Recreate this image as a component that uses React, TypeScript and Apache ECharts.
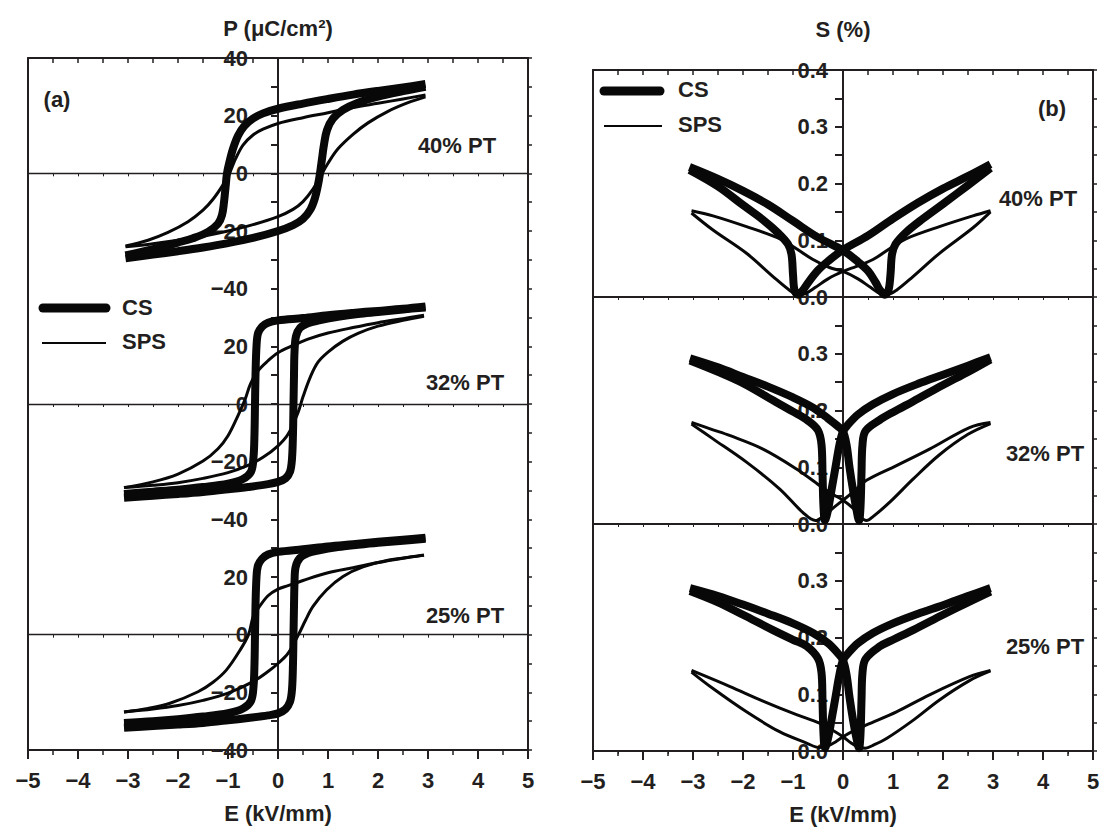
import { useEffect, useRef } from 'react';
import * as echarts from 'echarts';

// ---------- Panel (a): P–E loops, points [E (kV/mm), P (µC/cm²)] ----------
const pe40CsUp = [[-3.05,-29.5],[-2.5,-28.2],[-2,-27],[-1.5,-25.7],[-1,-24.2],[-0.5,-22.4],[0,-20],[0.3,-18],[0.5,-15.8],[0.65,-12.5],[0.74,-8.5],[0.8,-4],[0.84,0],[0.88,5],[0.92,10],[0.98,15],[1.1,19],[1.3,22],[1.6,24.5],[2,26.6],[2.5,28.5],[2.95,30]];
const pe40CsDown = [[2.95,31],[2.5,29.8],[2,28.6],[1.5,27.3],[1,25.8],[0.5,24.2],[0,22.4],[-0.3,20.8],[-0.5,19],[-0.68,16.3],[-0.8,13],[-0.9,8.5],[-0.97,4],[-1.02,0],[-1.05,-5],[-1.08,-10],[-1.12,-14.5],[-1.2,-17.5],[-1.4,-20.3],[-1.7,-22.5],[-2,-24],[-2.5,-26.3],[-3.05,-28.5]];
const pe40SpsUp = [[-3.05,-25.5],[-2.5,-24.4],[-2,-23.2],[-1.5,-21.8],[-1,-20],[-0.5,-17.8],[0,-15],[0.3,-12.5],[0.5,-9.8],[0.7,-5.5],[0.85,-1],[1,3.5],[1.2,8.5],[1.5,13.5],[1.8,17.5],[2.2,21.5],[2.6,24.5],[2.95,26.5]];
const pe40SpsDown = [[2.95,27.2],[2.5,25.8],[2,24.3],[1.5,22.8],[1,21],[0.5,19.3],[0,17.3],[-0.3,15.3],[-0.5,13.3],[-0.7,9.8],[-0.85,5],[-0.97,0],[-1.1,-4],[-1.3,-9],[-1.5,-12.8],[-1.8,-16.8],[-2.2,-20.5],[-2.6,-23.2],[-3.05,-25.2]];

const pe32CsUp = [[-3.08,-32.5],[-2.5,-31.8],[-2,-31.2],[-1.5,-30.5],[-1,-29.6],[-0.6,-28.8],[-0.2,-27.8],[0,-27],[0.15,-25.8],[0.24,-23.5],[0.28,-19],[0.3,-10],[0.31,0],[0.32,10],[0.33,18],[0.36,23.5],[0.44,26.4],[0.6,28],[0.8,28.9],[1.2,30.2],[1.6,31.2],[2,31.9],[2.5,32.8],[2.95,33.5]];
const pe32CsDown = [[2.95,33.8],[2.5,33],[2,32.3],[1.5,31.6],[1,30.8],[0.5,29.8],[0,29],[-0.2,28.2],[-0.32,26.8],[-0.4,24.5],[-0.43,20],[-0.45,10],[-0.46,0],[-0.47,-10],[-0.49,-18.5],[-0.54,-23.5],[-0.7,-26],[-1,-27.6],[-1.5,-28.8],[-2,-29.7],[-2.5,-30.4],[-3.08,-31.2]];
const pe32SpsUp = [[-3.08,-29],[-2.5,-28.2],[-2,-27.3],[-1.5,-25.8],[-1,-23.8],[-0.6,-21.3],[-0.3,-18.5],[0,-14.5],[0.2,-10.5],[0.4,-3],[0.5,2.5],[0.65,9.5],[0.8,14.5],[1,18],[1.3,21.8],[1.6,24.5],[2,27],[2.5,29],[2.92,30.4]];
const pe32SpsDown = [[2.92,30.8],[2.5,29.6],[2,28.2],[1.5,26.5],[1,24.6],[0.6,22.5],[0.3,20.3],[0,17.8],[-0.2,15],[-0.4,11.5],[-0.55,7],[-0.66,1.5],[-0.8,-4],[-1,-11],[-1.2,-15.5],[-1.5,-19.8],[-2,-24.3],[-2.5,-27],[-3.08,-29]];

const pe25CsUp = [[-3.08,-32.3],[-2.5,-31.7],[-2,-31.2],[-1.5,-30.6],[-1,-29.7],[-0.6,-28.9],[-0.2,-28],[0,-27.3],[0.15,-25.8],[0.24,-23.3],[0.28,-19],[0.3,-10],[0.31,0],[0.32,10],[0.33,18],[0.35,23.3],[0.44,26.6],[0.6,28.3],[0.8,29.2],[1.2,30.4],[1.6,31.2],[2,31.9],[2.5,32.6],[2.95,33.3]];
const pe25CsDown = [[2.95,33.6],[2.5,32.9],[2,32.2],[1.5,31.4],[1,30.6],[0.5,29.6],[0,28.7],[-0.2,27.8],[-0.32,26.3],[-0.4,24],[-0.43,20],[-0.45,10],[-0.46,0],[-0.47,-10],[-0.49,-18],[-0.54,-23],[-0.7,-25.6],[-1,-27.2],[-1.5,-28.4],[-2,-29.3],[-2.5,-30],[-3.08,-30.6]];
const pe25SpsUp = [[-3.08,-26.8],[-2.5,-25.8],[-2,-24.6],[-1.5,-22.8],[-1,-20.3],[-0.5,-16.3],[-0.2,-12.8],[0,-10],[0.2,-6.5],[0.41,0],[0.55,5],[0.7,9.8],[0.97,15.5],[1.3,20.2],[1.7,23.5],[2.2,25.8],[2.6,26.8],[2.92,27.5]];
const pe25SpsDown = [[2.92,27.6],[2.5,26.5],[2,25],[1.5,23.2],[1,21.5],[0.5,18.8],[0.2,17],[0,15.8],[-0.2,13.5],[-0.4,9],[-0.5,6],[-0.59,0],[-0.76,-5.4],[-1.03,-12.2],[-1.3,-16.5],[-1.6,-19.8],[-2.16,-23.8],[-2.6,-25.6],[-3.08,-26.8]];

// ---------- Panel (b): S–E butterflies, points [E (kV/mm), S (%)] ----------
const se40CsUp = [[-3.07,0.229],[-2.5,0.208],[-2,0.187],[-1.5,0.163],[-1,0.134],[-0.5,0.105],[0,0.082],[0.3,0.062],[0.5,0.046],[0.65,0.026],[0.75,0.011],[0.84,0.004],[0.91,0.012],[0.95,0.04],[0.98,0.075],[1.05,0.093],[1.25,0.113],[1.6,0.138],[2,0.164],[2.5,0.197],[2.95,0.227]];
const se40CsDown = [[2.95,0.234],[2.5,0.213],[2,0.191],[1.5,0.166],[1,0.138],[0.5,0.108],[0,0.083],[-0.3,0.063],[-0.5,0.047],[-0.7,0.025],[-0.82,0.01],[-0.9,0.004],[-0.97,0.012],[-1,0.04],[-1.03,0.075],[-1.1,0.093],[-1.3,0.113],[-1.6,0.136],[-2,0.162],[-2.5,0.195],[-3.07,0.224]];
const se40SpsUp = [[-3.03,0.152],[-2.6,0.143],[-1.93,0.124],[-1.27,0.103],[-1,0.089],[-0.6,0.066],[-0.27,0.052],[0,0.045],[0.3,0.032],[0.55,0.017],[0.75,0.006],[0.9,0.005],[1.07,0.012],[1.4,0.036],[1.93,0.077],[2.6,0.122],[2.95,0.15]];
const se40SpsDown = [[2.95,0.152],[2.6,0.143],[1.93,0.124],[1.27,0.103],[1,0.089],[0.6,0.066],[0.27,0.054],[0,0.045],[-0.3,0.032],[-0.55,0.017],[-0.75,0.006],[-0.9,0.004],[-1.07,0.012],[-1.4,0.036],[-1.93,0.077],[-2.6,0.118],[-3.03,0.148]];

const se32CsUp = [[-3.06,0.292],[-2.5,0.276],[-2,0.259],[-1.5,0.242],[-1,0.223],[-0.6,0.205],[-0.3,0.186],[-0.1,0.172],[0,0.163],[0.07,0.14],[0.13,0.1],[0.2,0.06],[0.27,0.025],[0.32,0.006],[0.35,0.03],[0.37,0.09],[0.39,0.14],[0.45,0.164],[0.73,0.183],[1,0.197],[1.4,0.216],[2,0.245],[2.5,0.268],[2.95,0.29]];
const se32CsDown = [[2.95,0.294],[2.5,0.279],[2,0.263],[1.5,0.247],[1,0.229],[0.6,0.211],[0.3,0.193],[0.1,0.175],[0,0.163],[-0.07,0.14],[-0.15,0.1],[-0.23,0.06],[-0.3,0.025],[-0.36,0.006],[-0.39,0.03],[-0.41,0.09],[-0.43,0.14],[-0.5,0.165],[-0.7,0.182],[-1,0.198],[-1.4,0.218],[-2,0.248],[-2.5,0.268],[-3.06,0.288]];
const se32SpsUp = [[-3.03,0.179],[-2.6,0.166],[-2.27,0.156],[-1.6,0.132],[-0.93,0.097],[-0.47,0.068],[-0.2,0.052],[0,0.042],[0.2,0.028],[0.35,0.012],[0.47,0.006],[0.6,0.013],[0.93,0.038],[1.4,0.079],[1.93,0.122],[2.5,0.158],[2.95,0.177]];
const se32SpsDown = [[2.95,0.179],[2.53,0.17],[1.73,0.132],[1.07,0.103],[0.47,0.077],[0.2,0.056],[0,0.042],[-0.2,0.028],[-0.4,0.013],[-0.55,0.006],[-0.8,0.02],[-1.27,0.062],[-1.93,0.109],[-2.6,0.15],[-3.03,0.176]];

const se25CsUp = [[-3.06,0.287],[-2.5,0.273],[-2,0.258],[-1.5,0.242],[-1,0.225],[-0.6,0.208],[-0.3,0.19],[-0.1,0.172],[0,0.16],[0.07,0.135],[0.13,0.095],[0.2,0.055],[0.27,0.022],[0.32,0.005],[0.35,0.03],[0.37,0.09],[0.39,0.138],[0.45,0.162],[0.73,0.184],[1,0.196],[1.4,0.213],[2,0.24],[2.5,0.262],[2.95,0.281]];
const se25CsDown = [[2.95,0.287],[2.5,0.273],[2,0.257],[1.5,0.242],[1,0.225],[0.6,0.208],[0.3,0.19],[0.1,0.172],[0,0.16],[-0.07,0.135],[-0.15,0.095],[-0.23,0.055],[-0.3,0.022],[-0.36,0.005],[-0.39,0.03],[-0.41,0.09],[-0.43,0.138],[-0.5,0.163],[-0.73,0.185],[-1,0.196],[-1.4,0.213],[-2,0.24],[-2.5,0.262],[-3.06,0.282]];
const se25SpsUp = [[-3.03,0.142],[-2.27,0.114],[-1.6,0.088],[-0.93,0.064],[-0.47,0.049],[-0.2,0.036],[0,0.025],[0.15,0.015],[0.3,0.007],[0.45,0.005],[0.6,0.01],[0.87,0.022],[1.4,0.054],[1.93,0.09],[2.53,0.124],[2.95,0.141]];
const se25SpsDown = [[2.95,0.142],[2.53,0.131],[1.73,0.099],[1.07,0.069],[0.47,0.046],[0.2,0.035],[0,0.025],[-0.15,0.016],[-0.3,0.009],[-0.47,0.006],[-0.73,0.014],[-1.27,0.034],[-1.93,0.069],[-2.6,0.11],[-3.03,0.139]];

// ---------- texts ----------
const compositions = ['40% PT', '32% PT', '25% PT'];
const legendNames = ['CS', 'SPS'];
const titleP = 'P (μC/cm²)';
const titleS = 'S (%)';
const titleE = 'E (kV/mm)';

const FONT = "'Liberation Sans', Arial, Helvetica, sans-serif";
const INK = '#231f20';
const FS = 22;
const minus = (v: number) => (v < 0 ? '\u2212' + Math.abs(v) : String(v));

const A_LEFT = 28;
const B_LEFT = 593;
const W = 500;
const A_TOP = 58;
const A_H = 692 / 3;
const B_TOP = 70;
const B_H = 227;

const labelStyle = { fontSize: FS, fontWeight: 'bold', fontFamily: FONT, color: INK };

function buildOption() {
  const grids: any[] = [
    { left: A_LEFT, top: A_TOP, width: W, height: A_H * 3 },
    ...[0, 1, 2].map((i) => ({ left: A_LEFT, top: A_TOP + i * A_H, width: W, height: A_H })),
    { left: B_LEFT, top: B_TOP, width: W, height: B_H * 3 },
    ...[0, 1, 2].map((i) => ({ left: B_LEFT, top: B_TOP + i * B_H, width: W, height: B_H })),
  ].map((g) => ({ ...g, containLabel: false, outerBoundsMode: 'none', show: false }));

  const frameBottom = (gi: number) => ({
    type: 'value', gridIndex: gi, min: -5, max: 5, interval: 1, position: 'bottom',
    axisLine: { show: true, onZero: false, lineStyle: { color: INK, width: 2 } },
    axisTick: { show: true, length: 9, lineStyle: { color: INK, width: 2 } },
    minorTick: { show: true, splitNumber: 2, length: 5, lineStyle: { color: INK, width: 1.5 } },
    splitLine: { show: false }, minorSplitLine: { show: false },
    axisLabel: { ...labelStyle, show: true, margin: 19, showMinLabel: true, showMaxLabel: true, formatter: (v: number) => minus(v) },
    name: titleE, nameLocation: 'middle', nameGap: 52, nameTextStyle: { ...labelStyle },
  });
  const frameTop = (gi: number) => ({
    type: 'value', gridIndex: gi, min: -5, max: 5, interval: 0.5, position: 'top',
    axisLine: { show: true, onZero: false, lineStyle: { color: INK, width: 2 } },
    axisTick: { show: true, inside: true, length: 5, lineStyle: { color: INK, width: 1.5 } },
    axisLabel: { show: false }, splitLine: { show: false },
  });
  const frameLeft = (gi: number) => ({
    type: 'value', gridIndex: gi, min: 0, max: 24, interval: 1, position: 'left',
    axisLine: { show: true, onZero: false, lineStyle: { color: INK, width: 2 } },
    axisTick: { show: false }, axisLabel: { show: false }, splitLine: { show: false },
  });
  const frameRight = (gi: number) => ({
    type: 'value', gridIndex: gi, min: 0, max: 24, interval: 1, position: 'right',
    axisLine: { show: true, onZero: false, lineStyle: { color: INK, width: 2 } },
    axisTick: { show: true, length: 4, lineStyle: { color: INK, width: 1.5 } },
    axisLabel: { show: false }, splitLine: { show: false },
  });

  const subXA = (gi: number) => ({
    type: 'value', gridIndex: gi, min: -5, max: 5, interval: 0.5, position: 'bottom',
    axisLine: { show: true, onZero: true, lineStyle: { color: INK, width: 1.3 } },
    axisTick: { show: true, length: 3, lineStyle: { color: INK, width: 1 } },
    axisLabel: { show: false }, splitLine: { show: false },
  });
  // vertical axis through E = 0 (centre of the -5..5 range): shifted inward by half the width
  const subYA = (gi: number, showTop: boolean) => ({
    type: 'value', gridIndex: gi, min: -40, max: 40, interval: 10, position: 'left', offset: -W / 2,
    axisLine: { show: true, onZero: false, lineStyle: { color: INK, width: 2 } },
    axisTick: { show: true, length: 7, lineStyle: { color: INK, width: 2 } },
    splitLine: { show: false },
    axisLabel: {
      ...labelStyle, show: true, margin: 30, showMinLabel: true, showMaxLabel: true,
      formatter: (v: number) => (Math.round(v) % 20 === 0 && (showTop || Math.round(v) !== 40) ? minus(Math.round(v)) : ''),
    },
  });
  const subXB = (gi: number) => ({
    type: 'value', gridIndex: gi, min: -5, max: 5, interval: 0.5, position: 'bottom',
    axisLine: { show: true, onZero: false, lineStyle: { color: INK, width: 2 } },
    axisTick: { show: true, length: 3, lineStyle: { color: INK, width: 1 } },
    axisLabel: { show: false }, splitLine: { show: false },
  });
  const subYB = (gi: number, showTop: boolean) => ({
    type: 'value', gridIndex: gi, min: 0, max: 0.4, interval: 0.05, position: 'left', offset: -W / 2,
    axisLine: { show: true, onZero: false, lineStyle: { color: INK, width: 2 } },
    axisTick: { show: true, length: 8, lineStyle: { color: INK, width: 2 } },
    splitLine: { show: false },
    axisLabel: {
      ...labelStyle, show: true, margin: 15, showMinLabel: true, showMaxLabel: true,
      formatter: (v: number) => {
        const k = Math.round(v * 100);
        if (k % 10 !== 0) return '';
        if (!showTop && k === 40) return '';
        return (k / 100).toFixed(1);
      },
    },
  });

  const xAxis = [frameBottom(0), frameTop(0), subXA(1), subXA(2), subXA(3), frameBottom(4), frameTop(4), subXB(5), subXB(6), subXB(7)];
  const yAxis = [frameLeft(0), frameRight(0), subYA(1, true), subYA(2, false), subYA(3, false), frameLeft(4), frameRight(4), subYB(5, true), subYB(6, false), subYB(7, false)];

  const line = (data: number[][], ai: number, thick: boolean, name: string) => ({
    type: 'line', name, data, xAxisIndex: ai, yAxisIndex: ai, showSymbol: false, symbol: 'none',
    smooth: 0.35, silent: true, z: thick ? 3 : 4,
    lineStyle: { color: '#080808', width: thick ? 8 : 3, cap: 'butt', join: 'round' },
  });

  const series = [
    line(pe40CsUp, 2, true, 'CS'), line(pe40CsDown, 2, true, 'CS'), line(pe40SpsUp, 2, false, 'SPS'), line(pe40SpsDown, 2, false, 'SPS'),
    line(pe32CsUp, 3, true, 'CS'), line(pe32CsDown, 3, true, 'CS'), line(pe32SpsUp, 3, false, 'SPS'), line(pe32SpsDown, 3, false, 'SPS'),
    line(pe25CsUp, 4, true, 'CS'), line(pe25CsDown, 4, true, 'CS'), line(pe25SpsUp, 4, false, 'SPS'), line(pe25SpsDown, 4, false, 'SPS'),
    line(se40CsUp, 7, true, 'CS'), line(se40CsDown, 7, true, 'CS'), line(se40SpsUp, 7, false, 'SPS'), line(se40SpsDown, 7, false, 'SPS'),
    line(se32CsUp, 8, true, 'CS'), line(se32CsDown, 8, true, 'CS'), line(se32SpsUp, 8, false, 'SPS'), line(se32SpsDown, 8, false, 'SPS'),
    line(se25CsUp, 9, true, 'CS'), line(se25CsDown, 9, true, 'CS'), line(se25SpsUp, 9, false, 'SPS'), line(se25SpsDown, 9, false, 'SPS'),
  ];

  const txt = (text: string, x: number, y: number, align = 'center') => ({
    type: 'text', x, y, silent: true, z: 10,
    style: { text, fill: INK, fontSize: FS, fontWeight: 'bold', fontFamily: FONT, align, verticalAlign: 'middle' },
  });
  const seg = (x1: number, x2: number, y: number, w: number) => ({
    type: 'line', silent: true, z: 10,
    shape: { x1, y1: y, x2, y2: y },
    style: { stroke: '#080808', lineWidth: w, lineCap: w > 4 ? 'round' : 'butt' },
  });

  const graphic = [
    txt(titleP, 278, 28), txt(titleS, 843, 29),
    txt('(a)', 57, 99), txt('(b)', 1052, 108),
    txt(compositions[0], 457, 145), txt(compositions[1], 465, 382), txt(compositions[2], 465, 615),
    txt(compositions[0], 1038, 198), txt(compositions[1], 1045, 453), txt(compositions[2], 1045, 646),
    seg(43, 106, 308, 9), txt(legendNames[0], 122, 307, 'left'),
    seg(42, 106, 343, 2), txt(legendNames[1], 122, 341, 'left'),
    seg(604, 660, 91, 9), txt(legendNames[0], 678, 89, 'left'),
    seg(604, 662, 126, 2), txt(legendNames[1], 678, 124, 'left'),
  ];

  return { animation: false, backgroundColor: '#ffffff', grid: grids, xAxis, yAxis, series, graphic };
}

export default function App() {
  const ref = useRef<HTMLDivElement>(null);
  useEffect(() => {
    const chart = echarts.init(ref.current as HTMLDivElement, null, { renderer: 'svg' });
    chart.setOption(buildOption() as any);
    return () => chart.dispose();
  }, []);
  return (
    <div
      ref={ref}
      style={{ position: 'fixed', left: 0, top: 0, width: 1101, height: 832, background: '#fff' }}
    />
  );
}
